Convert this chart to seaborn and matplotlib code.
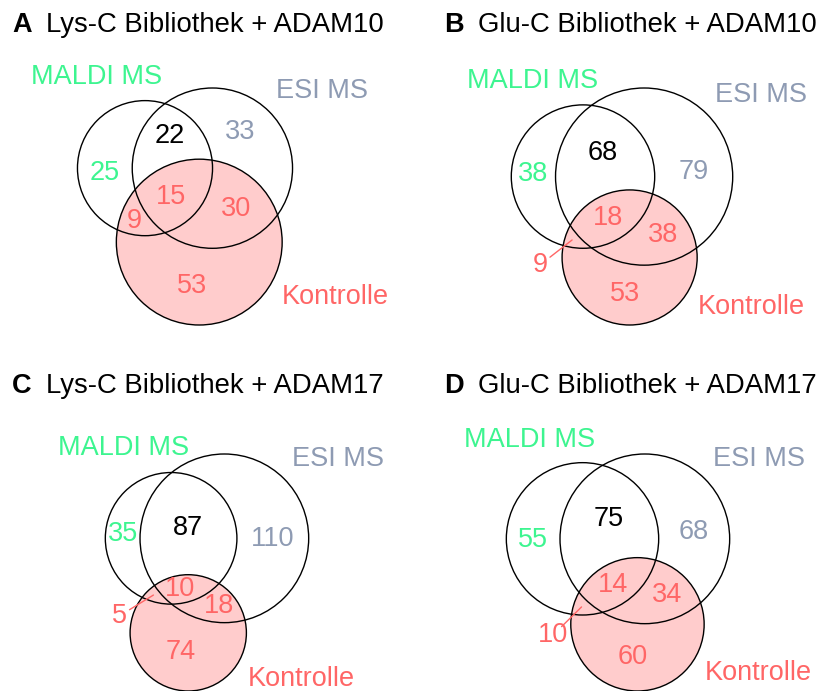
import numpy as np
import matplotlib.pyplot as plt
import seaborn as sns
from matplotlib.patches import Circle

sns.set_theme(style="white")
plt.rcParams['font.family'] = ['Liberation Sans', 'DejaVu Sans']
plt.rcParams['text.color'] = 'black'

# data
panel_letters = ["A", "B", "C", "D"]
panel_titles = ["Lys-C Bibliothek + ADAM10", "Glu-C Bibliothek + ADAM10",
                "Lys-C Bibliothek + ADAM17", "Glu-C Bibliothek + ADAM17"]
set_names = ["MALDI MS", "ESI MS", "Kontrolle"]
maldi_only = [25, 38, 35, 55]
esi_only = [33, 79, 110, 68]
kontrolle_only = [53, 53, 74, 60]
maldi_esi = [22, 68, 87, 75]
maldi_kontrolle = [9, 9, 5, 10]
esi_kontrolle = [30, 38, 18, 34]
all_three = [15, 18, 10, 14]

# styles
set_colors = ["#3df590", "#8e9bb3", "#ff6666"]
black = "#000000"
red = "#ff6666"
fill_k = "#ffcccc"
fs = 19.5

W, H = 818, 691
fig = plt.figure(figsize=(W / 100, H / 100), dpi=100)


def lens(r1, r2, d):
    if d >= r1 + r2:
        return 0.0
    if d <= abs(r1 - r2):
        return np.pi * min(r1, r2) ** 2
    a1 = r1 ** 2 * np.arccos((d ** 2 + r1 ** 2 - r2 ** 2) / (2 * d * r1))
    a2 = r2 ** 2 * np.arccos((d ** 2 + r2 ** 2 - r1 ** 2) / (2 * d * r2))
    k = np.sqrt((-d + r1 + r2) * (d + r1 - r2) * (d - r1 + r2) * (d + r1 + r2))
    return a1 + a2 - 0.5 * k


def solve_dist(r1, r2, target):
    lo, hi = abs(r1 - r2), r1 + r2
    for _ in range(80):
        mid = (lo + hi) / 2
        if lens(r1, r2, mid) > target:
            lo = mid
        else:
            hi = mid
    return (lo + hi) / 2


# where each panel goes (pixels)
diagram_cx = [185, 622, 207, 618]
rows_top = [88, 454]
title_base = [32, 393]
letter_x = [12, 444]
title_x = [46, 478]
diagram_h = 237

label_angle = [118, 35, -22]
label_gap = [36, 54, 64]

for i in range(4):
    col, row = i % 2, i // 2
    m_tot = maldi_only[i] + maldi_esi[i] + maldi_kontrolle[i] + all_three[i]
    e_tot = esi_only[i] + maldi_esi[i] + esi_kontrolle[i] + all_three[i]
    k_tot = kontrolle_only[i] + maldi_kontrolle[i] + esi_kontrolle[i] + all_three[i]
    r = np.sqrt(np.array([m_tot, e_tot, k_tot]) / np.pi)
    d_me = solve_dist(r[0], r[1], maldi_esi[i] + all_three[i])
    d_mk = solve_dist(r[0], r[2], maldi_kontrolle[i] + all_three[i])
    d_ek = solve_dist(r[1], r[2], esi_kontrolle[i] + all_three[i])
    kx = (d_mk ** 2 - d_ek ** 2 + d_me ** 2) / (2 * d_me)
    ky = -np.sqrt(max(d_mk ** 2 - kx ** 2, 0))
    cx = np.array([0.0, d_me, kx])
    cy = np.array([0.0, 0.0, ky])

    x_lo, x_hi = (cx - r).min(), (cx + r).max()
    y_lo, y_hi = (cy - r).min(), (cy + r).max()
    s = diagram_h / (y_hi - y_lo)
    cu = (x_lo + x_hi) / 2
    cpx = diagram_cx[i]
    top = rows_top[row]

    ax = fig.add_axes([0, 0, 1, 1])
    ax.set_xlim(cu - cpx / s, cu + (W - cpx) / s)
    ax.set_ylim(y_hi - (H - top) / s, y_hi + top / s)
    ax.axis("off")
    ax.patch.set_alpha(0)

    ax.add_patch(Circle((cx[2], cy[2]), r[2], facecolor=fill_k, edgecolor="none", zorder=1))
    for j in range(3):
        ax.add_patch(Circle((cx[j], cy[j]), r[j], facecolor="none",
                            edgecolor=black, lw=1.0, zorder=2))

    # region labels at the point farthest from all circle edges
    gx, gy = np.meshgrid(np.linspace(x_lo, x_hi, 500), np.linspace(y_lo, y_hi, 500))
    dist = np.stack([np.hypot(gx - cx[j], gy - cy[j]) for j in range(3)])
    inside = dist < r[:, None, None]
    edge = np.abs(dist - r[:, None, None]).min(axis=0)
    regions = [((1, 0, 0), maldi_only[i], set_colors[0]),
               ((0, 1, 0), esi_only[i], set_colors[1]),
               ((0, 0, 1), kontrolle_only[i], red),
               ((1, 1, 0), maldi_esi[i], black),
               ((1, 0, 1), maldi_kontrolle[i], red),
               ((0, 1, 1), esi_kontrolle[i], red),
               ((1, 1, 1), all_three[i], red)]
    mx, my = cx.mean(), cy.mean()
    for memb, val, colr in regions:
        mask = np.ones_like(gx, dtype=bool)
        for j in range(3):
            mask &= inside[j] if memb[j] else ~inside[j]
        e = np.where(mask, edge, -1)
        k = np.argmax(e)
        px, py = gx.flat[k], gy.flat[k]
        if e.flat[k] * s < 9:
            v = np.array([px - mx, py - my])
            v = v / np.hypot(*v)
            lx, ly = px + v[0] * 40 / s, py + v[1] * 40 / s
            ax.plot([px, px + 0.7 * (lx - px)], [py, py + 0.7 * (ly - py)],
                    color=colr, lw=1.0, zorder=3)
            ax.text(lx, ly, str(val), color=colr, fontsize=fs,
                    ha="center", va="center", zorder=4)
        else:
            ax.text(px, py, str(val), color=colr, fontsize=fs,
                    ha="center", va="center", zorder=4)

    # set names outside the circles
    for j in range(3):
        a = np.deg2rad(label_angle[j])
        dd = r[j] + label_gap[j] / s
        ax.text(cx[j] + dd * np.cos(a), cy[j] + dd * np.sin(a), set_names[j],
                color=set_colors[j], fontsize=fs, ha="center", va="center")

    fig.text(letter_x[col] / W, 1 - title_base[row] / H, panel_letters[i],
             fontsize=fs, fontweight="bold", va="baseline", ha="left")
    fig.text(title_x[col] / W, 1 - title_base[row] / H, panel_titles[i],
             fontsize=19.8, va="baseline", ha="left")

fig.savefig("out.png", dpi=100)
